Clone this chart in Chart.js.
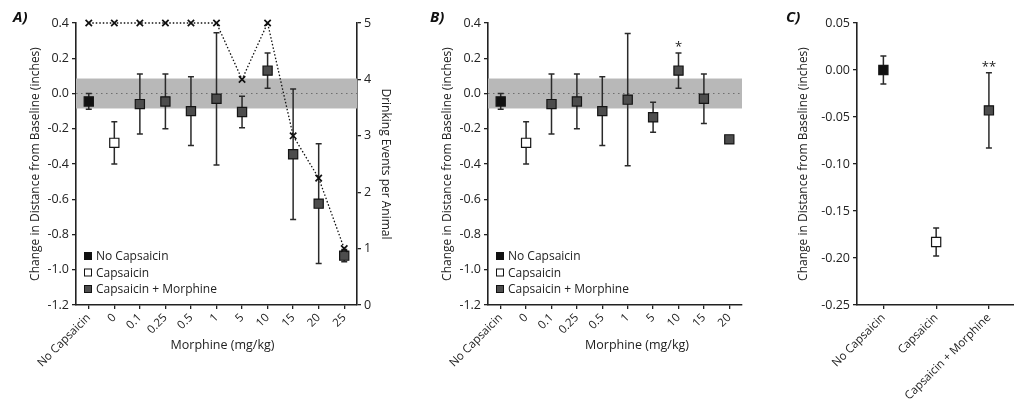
<!DOCTYPE html>
<html>
<head>
<meta charset="utf-8">
<script src="https://cdn.jsdelivr.net/npm/chart.js@4.4.1/dist/chart.umd.min.js"></script>
<style>
    html, body { margin: 0; padding: 0; background: #fff; width: 1014px; height: 403px; overflow: hidden; }
    .panel { position: absolute; top: 0; height: 403px; }
    .tag { position: absolute; font: italic bold 15px "Open Sans", sans-serif; color: #111; }
</style>
</head>
<body>
<div class="panel" style="left:0;width:425px"><canvas id="chartA"></canvas></div>
<div class="panel" style="left:425px;width:340px"><canvas id="chartB"></canvas></div>
<div class="panel" style="left:765px;width:258px"><canvas id="chartC"></canvas></div>
<div class="tag" style="left:13px;top:6px">A)</div>
<div class="tag" style="left:430px;top:6px">B)</div>
<div class="tag" style="left:786px;top:6px">C)</div>

<script>
// groups: 0 = No Capsaicin, 1 = Capsaicin, 2 = Capsaicin + Morphine
const groupNames = ['No Capsaicin', 'Capsaicin', 'Capsaicin + Morphine'];

// panel A
const catsA = ['No Capsaicin', '0', '0.1', '0.25', '0.5', '1', '5', '10', '15', '20', '25'];
const groupA = [0, 1, 2, 2, 2, 2, 2, 2, 2, 2, 2];
const meanA = [-0.045, -0.28, -0.06, -0.045, -0.10, -0.03, -0.105, 0.13, -0.345, -0.625, -0.92];
const errA = [0.045, 0.12, 0.17, 0.155, 0.195, 0.375, 0.09, 0.10, 0.37, 0.34, 0.035];
const drinkA = [5, 5, 5, 5, 5, 5, 4, 5, 3, 2.25, 1];

// panel B
const catsB = ['No Capsaicin', '0', '0.1', '0.25', '0.5', '1', '5', '10', '15', '20'];
const groupB = [0, 1, 2, 2, 2, 2, 2, 2, 2, 2];
const meanB = [-0.045, -0.28, -0.06, -0.045, -0.10, -0.035, -0.135, 0.13, -0.03, -0.26];
const errB = [0.045, 0.12, 0.17, 0.155, 0.195, 0.375, 0.085, 0.10, 0.14, null];
const starsB = ['', '', '', '', '', '', '', '*', '', ''];

// panel C
const catsC = ['No Capsaicin', 'Capsaicin', 'Capsaicin + Morphine'];
const groupC = [0, 1, 2];
const meanC = [0.0, -0.183, -0.043];
const errC = [0.015, 0.015, 0.04];
const starsC = ['', '', '**'];

// tick values
const ticksAB = [-1.2, -1.0, -0.8, -0.6, -0.4, -0.2, 0.0, 0.2, 0.4];
const ticksDrink = [0, 1, 2, 3, 4, 5];
const ticksC = [-0.25, -0.20, -0.15, -0.10, -0.05, 0.00, 0.05];

// shaded baseline range
const band = [-0.085, 0.085];

Chart.defaults.font.family = '"Open Sans", sans-serif';
Chart.defaults.color = '#1a1a1a';

const fills = ['#111111', '#ffffff', '#4d4d4d'];
const INK = '#222';

const decor = {
    id: 'decor',
    beforeDatasetsDraw(chart, args, opts) {
        const {ctx, chartArea: a, scales: {x, y}} = chart;
        ctx.save();
        if (opts.band) {
            const t = y.getPixelForValue(opts.band[1]);
            const b = y.getPixelForValue(opts.band[0]);
            ctx.fillStyle = '#b8b8b8';
            ctx.fillRect(a.left, t, a.right - a.left, b - t);
            const z = y.getPixelForValue(0);
            ctx.strokeStyle = '#6e6e6e';
            ctx.lineWidth = 1;
            ctx.setLineDash([1.5, 3.5]);
            ctx.beginPath();
            ctx.moveTo(a.left, z);
            ctx.lineTo(a.right, z);
            ctx.stroke();
            ctx.setLineDash([]);
        }
        // error bars
        ctx.strokeStyle = '#2a2a2a';
        ctx.lineWidth = 1.5;
        opts.mean.forEach((m, i) => {
            const e = opts.err[i];
            if (m == null || e == null) return;
            const px = x.getPixelForValue(i);
            const hi = y.getPixelForValue(m + e);
            const lo = y.getPixelForValue(m - e);
            ctx.beginPath();
            ctx.moveTo(px, hi); ctx.lineTo(px, lo);
            ctx.moveTo(px - 3, hi); ctx.lineTo(px + 3, hi);
            ctx.moveTo(px - 3, lo); ctx.lineTo(px + 3, lo);
            ctx.stroke();
        });
        ctx.restore();
    },
    afterDraw(chart, args, opts) {
        const {ctx, chartArea: a, scales: {x, y}} = chart;
        ctx.save();
        // significance stars
        if (opts.stars) {
            ctx.fillStyle = INK;
            ctx.font = '13px "Open Sans", sans-serif';
            ctx.textAlign = 'center';
            ctx.textBaseline = 'bottom';
            opts.stars.forEach((s, i) => {
                if (!s) return;
                const top = opts.mean[i] + (opts.err[i] || 0);
                ctx.fillText(s, x.getPixelForValue(i), y.getPixelForValue(top) + 1);
            });
        }
        // legend in lower-left corner
        if (opts.legend) {
            ctx.font = '12px "Open Sans", sans-serif';
            ctx.textAlign = 'left';
            ctx.textBaseline = 'middle';
            groupNames.forEach((name, g) => {
                const cy = a.bottom - 49 + g * 16.5;
                ctx.fillStyle = fills[g];
                ctx.fillRect(a.left + 8, cy - 4, 8, 8);
                ctx.strokeStyle = '#111';
                ctx.lineWidth = 1;
                ctx.strokeRect(a.left + 8.5, cy - 3.5, 7, 7);
                ctx.fillStyle = INK;
                ctx.fillText(name, a.left + 20, cy + 1);
            });
        }
        // x axis title
        if (opts.xTitle) {
            ctx.fillStyle = INK;
            ctx.font = '12.5px "Open Sans", sans-serif';
            ctx.textAlign = 'center';
            ctx.textBaseline = 'middle';
            ctx.fillText(opts.xTitle, (a.left + a.right) / 2 + opts.xShift, 345);
        }
        ctx.restore();
    }
};

function groupSets(mean, group) {
    return groupNames.map((name, g) => ({
        label: name,
        yAxisID: 'y',
        data: mean.map((v, i) => (group[i] === g ? v : null)),
        showLine: false,
        pointStyle: 'rect',
        pointRadius: 6.5,
        pointHoverRadius: 6.5,
        pointBackgroundColor: fills[g],
        pointBorderColor: '#151515',
        pointBorderWidth: 1.2,
        order: 1
    }));
}

function axisStyle() {
    return {
        grid: {display: true, drawOnChartArea: false, drawTicks: true, tickLength: 4, color: INK, lineWidth: 1.3},
        border: {display: true, color: INK, width: 1.6}
    };
}

function yScale(ticks, digits, titlePad, width) {
    return {
        position: 'left',
        min: ticks[0],
        max: ticks[ticks.length - 1],
        afterBuildTicks: s => { s.ticks = ticks.map(v => ({value: v})); },
        ticks: {font: {size: 12.5}, color: INK, padding: 3, callback: v => v.toFixed(digits)},
        title: {display: true, text: 'Change in Distance from Baseline (inches)', font: {size: 12}, color: INK, padding: {top: titlePad}},
        afterFit: s => { s.width = width; },
        ...axisStyle()
    };
}

function xScale(cats) {
    return {
        type: 'category',
        labels: cats,
        offset: true,
        ticks: {font: {size: 11.5}, color: INK, padding: 2, minRotation: 45, maxRotation: 45, autoSkip: false},
        afterFit: s => { s.height = 98; },
        ...axisStyle()
    };
}

function baseOptions(padRight) {
    return {
        responsive: true,
        maintainAspectRatio: false,
        animation: false,
        events: [],
        layout: {padding: {top: 23, right: padRight, bottom: 0, left: 0}},
        plugins: {legend: {display: false}, tooltip: {enabled: false}}
    };
}

// A
const optA = baseOptions(0);
optA.plugins.decor = {band, mean: meanA, err: errA, legend: true, xTitle: 'Morphine (mg/kg)', xShift: 6};
optA.scales = {
    x: xScale(catsA),
    y: yScale(ticksAB, 1, 28, 76),
    y2: {
        position: 'right',
        min: 0, max: 5,
        afterBuildTicks: s => { s.ticks = ticksDrink.map(v => ({value: v})); },
        ticks: {font: {size: 12.5}, color: INK, padding: 3},
        title: {display: true, text: 'Drinking Events per Animal', font: {size: 12}, color: INK, padding: {top: 32}},
        afterFit: s => { s.width = 68; },
        ...axisStyle()
    }
};
new Chart(document.getElementById('chartA'), {
    type: 'line',
    data: {
        labels: catsA,
        datasets: groupSets(meanA, groupA).concat([{
            label: 'Drinking Events per Animal',
            yAxisID: 'y2',
            data: drinkA,
            clip: false,
            borderColor: '#111',
            borderWidth: 1.3,
            borderDash: [1.5, 2],
            pointStyle: 'crossRot',
            pointRadius: 4.5,
            pointHoverRadius: 4.5,
            pointBorderColor: '#111',
            pointBorderWidth: 1.7,
            order: 0
        }])
    },
    options: optA,
    plugins: [decor]
});

// B
const optB = baseOptions(23);
optB.plugins.decor = {band, mean: meanB, err: errB, stars: starsB, legend: true, xTitle: 'Morphine (mg/kg)', xShift: 22};
optB.scales = {x: xScale(catsB), y: yScale(ticksAB, 1, 15, 63)};
new Chart(document.getElementById('chartB'), {
    type: 'line',
    data: {labels: catsB, datasets: groupSets(meanB, groupB)},
    options: optB,
    plugins: [decor]
});

// C
const optC = baseOptions(0);
optC.plugins.decor = {mean: meanC, err: errC, stars: starsC};
optC.scales = {x: xScale(catsC), y: yScale(ticksC, 2, 31, 92)};
new Chart(document.getElementById('chartC'), {
    type: 'line',
    data: {labels: catsC, datasets: groupSets(meanC, groupC)},
    options: optC,
    plugins: [decor]
});
</script>
</body>
</html>
